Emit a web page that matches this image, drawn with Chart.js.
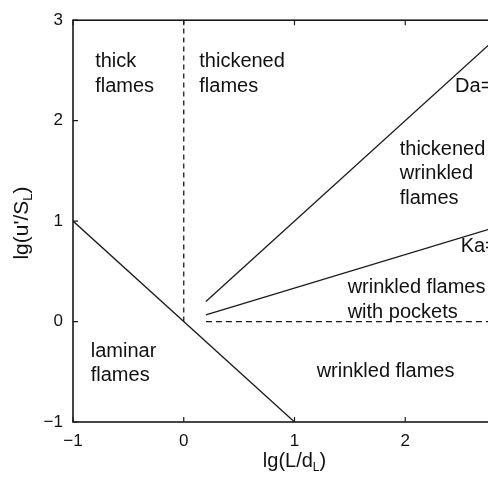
<!DOCTYPE html>
<html>
<head>
<meta charset="utf-8">
<title>Borghi diagram</title>
<script src="https://cdn.jsdelivr.net/npm/chart.js@4/dist/chart.umd.min.js"></script>
<style>
  html, body { margin: 0; padding: 0; background: #fff; overflow: hidden; }
  #wrap { width: 530px; height: 477px; }
</style>
</head>
<body>
<div id="wrap"><canvas id="c" width="530" height="477"></canvas></div>
<script>
// Axis ticks (log10 values)
const xTicks = [-1, 0, 1, 2, 3];
const yTicks = [-1, 0, 1, 2, 3];

// Regime boundaries, lg(L/dL) vs lg(u'/SL)
const laminarX = [-1, 1];        // Re = 1
const laminarY = [1, -1];
const thickX = [0, 0];           // L = dL
const thickY = [0, 3];
const daX = [0.2, 3];            // Da = 1
const daY = [0.2, 3];
const kaX = [0.2, 3];            // Ka = 1
const kaY = [0.2 / 3, 1];
const pocketX = [0.2, 3];        // u' = SL
const pocketY = [0, 0];

// Regime names and where they sit (data coordinates of first baseline)
const regionText = [
  ['thick', 'flames'],
  ['thickened', 'flames'],
  ['Da=1'],
  ['thickened', 'wrinkled', 'flames'],
  ['Ka=1'],
  ['wrinkled flames', 'with pockets'],
  ['wrinkled flames'],
  ['laminar', 'flames']
];
const regionAnchorX = [-0.80, 0.14, 2.45, 1.95, 2.50, 1.48, 1.20, -0.84];
const regionAnchorY = [2.53, 2.53, 2.29, 1.66, 0.69, 0.28, -0.55, -0.35];

const INK = '#1a1a1a';
const TEXT = '#111';
const FONT = '"Liberation Sans", Arial, Helvetica, sans-serif';

function pts(xs, ys) { return xs.map((x, i) => ({ x: x, y: ys[i] })); }

function lineSet(xs, ys, dash) {
  return {
    data: pts(xs, ys),
    showLine: true,
    borderColor: INK,
    borderWidth: 1.3,
    borderDash: dash || [],
    pointRadius: 0,
    fill: false
  };
}

const minusFmt = v => (v < 0 ? '\u2212' + Math.abs(v) : String(v));

// Frame, inward ticks, regime labels and axis titles
const decor = {
  id: 'decor',
  afterDraw(chart) {
    const ctx = chart.ctx;
    const a = chart.chartArea;
    const xs = chart.scales.x, ys = chart.scales.y;
    ctx.save();
    ctx.strokeStyle = INK;
    ctx.lineWidth = 1.6;
    ctx.strokeRect(a.left, a.top, a.right - a.left, a.bottom - a.top);

    ctx.lineWidth = 1.2;
    ctx.beginPath();
    yTicks.forEach(v => {
      const p = ys.getPixelForValue(v);
      ctx.moveTo(a.left, p); ctx.lineTo(a.left + 5, p);
      ctx.moveTo(a.right, p); ctx.lineTo(a.right - 5, p);
    });
    xTicks.forEach(v => {
      const p = xs.getPixelForValue(v);
      ctx.moveTo(p, a.bottom); ctx.lineTo(p, a.bottom - 5);
      ctx.moveTo(p, a.top); ctx.lineTo(p, a.top + 5);
    });
    ctx.stroke();

    ctx.fillStyle = TEXT;
    ctx.font = '20px ' + FONT;
    ctx.textAlign = 'left';
    ctx.textBaseline = 'alphabetic';
    regionText.forEach((lines, i) => {
      const px = xs.getPixelForValue(regionAnchorX[i]);
      const py = ys.getPixelForValue(regionAnchorY[i]);
      lines.forEach((t, k) => ctx.fillText(t, px, py + k * 24.5));
    });

    // text with a subscript part, centred on (0,0) baseline
    function subText(parts, big, small) {
      let w = 0;
      parts.forEach(p => {
        ctx.font = (p.sub ? small : big) + 'px ' + FONT;
        w += ctx.measureText(p.t).width;
      });
      let x = -w / 2;
      parts.forEach(p => {
        ctx.font = (p.sub ? small : big) + 'px ' + FONT;
        ctx.fillText(p.t, x, p.sub ? 4 : 0);
        x += ctx.measureText(p.t).width;
      });
    }

    // x title
    ctx.save();
    ctx.translate((a.left + a.right) / 2, 467);
    subText([{ t: 'lg(L/d' }, { t: 'L', sub: true }, { t: ')' }], 20, 12);
    ctx.restore();

    // y title
    ctx.save();
    ctx.translate(28, 223);
    ctx.rotate(-Math.PI / 2);
    subText([{ t: "lg(u'/S" }, { t: 'L', sub: true }, { t: ')' }], 21, 13);
    ctx.restore();

    ctx.restore();
  }
};

new Chart(document.getElementById('c'), {
  type: 'scatter',
  data: {
    datasets: [
      lineSet(laminarX, laminarY),
      lineSet(thickX, thickY, [5, 4]),
      lineSet(daX, daY),
      lineSet(kaX, kaY),
      lineSet(pocketX, pocketY, [6, 4])
    ]
  },
  options: {
    responsive: false,
    animation: false,
    devicePixelRatio: 1,
    layout: { padding: { top: 20, right: 14, left: 0, bottom: 0 } },
    plugins: { legend: { display: false }, tooltip: { enabled: false } },
    scales: {
      x: {
        type: 'linear', min: -1, max: 3,
        afterBuildTicks: s => { s.ticks = xTicks.map(v => ({ value: v })); },
        afterFit: s => { s.height = 55; },
        grid: { display: false, drawTicks: false },
        border: { display: false },
        ticks: { color: TEXT, font: { family: FONT, size: 17 }, padding: 9, callback: minusFmt, maxRotation: 0 }
      },
      y: {
        type: 'linear', min: -1, max: 3,
        afterBuildTicks: s => { s.ticks = yTicks.map(v => ({ value: v })); },
        afterFit: s => { s.width = 73; },
        grid: { display: false, drawTicks: false },
        border: { display: false },
        ticks: { color: TEXT, font: { family: FONT, size: 17 }, padding: 10, callback: minusFmt }
      }
    }
  },
  plugins: [decor]
});
</script>
</body>
</html>
